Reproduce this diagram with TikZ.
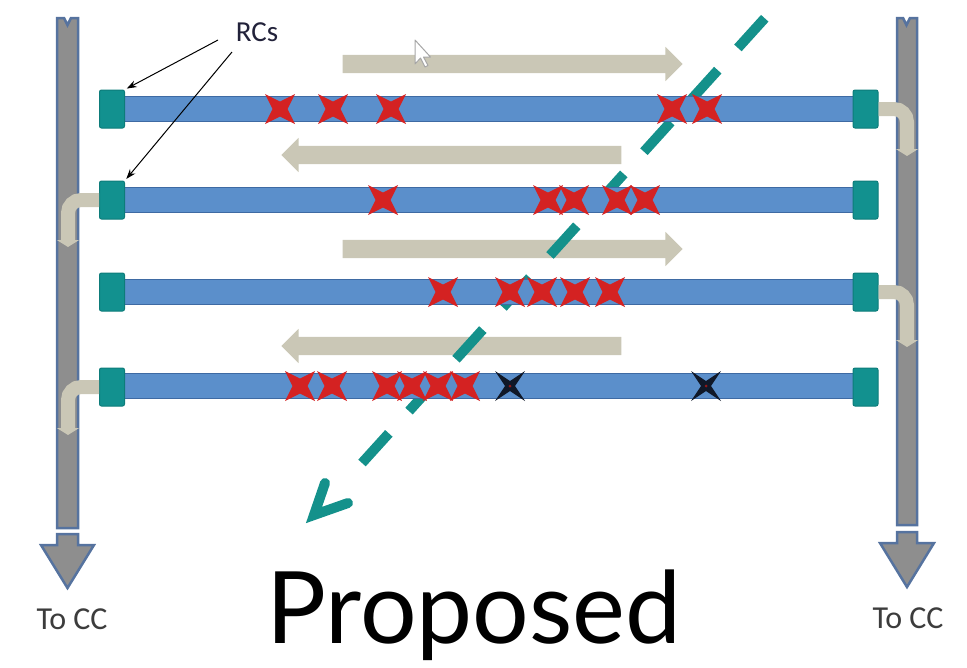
\documentclass[tikz,border=0pt]{standalone}
\usepackage{fontspec}
\setmainfont{Carlito}
\newfontfamily\propfont{Lato}
\usetikzlibrary{arrows.meta,shapes.arrows}
\definecolor{barblue}{HTML}{5B8FCB}
\definecolor{baredge}{HTML}{3E6AA3}
\definecolor{capteal}{HTML}{12918F}
\definecolor{capedge}{HTML}{0D7C7A}
\definecolor{beige}{HTML}{CAC7B6}
\definecolor{pipegray}{HTML}{8E8E8E}
\definecolor{pipeedge}{HTML}{56739F}
\definecolor{xred}{HTML}{D42222}
\definecolor{xblack}{HTML}{101828}
\definecolor{dashteal}{HTML}{14918B}
\definecolor{navytext}{HTML}{22223A}
\definecolor{cctext}{HTML}{3C3C3C}
\begin{document}
\begin{tikzpicture}[x=1pt,y=-1pt,
  pipe/.style={fill=pipegray, draw=pipeedge, line width=2.5pt, line join=miter},
  bar/.style={fill=barblue, draw=baredge, line width=1.5pt},
  rc/.style={fill=capteal, draw=capedge, line width=1pt, rounded corners=2pt, minimum width=25pt, minimum height=38pt, inner sep=0pt},
  flow/.style={single arrow, fill=beige, text height=18pt, text depth=0pt, inner sep=0pt, minimum height=340pt, single arrow head extend=8pt},
  link/.style={draw=beige, line width=14pt, rounded corners=13pt, -{Triangle[length=7pt,width=22pt]}},
  dashline/.style={draw=dashteal, line width=10pt, dash pattern=on 40pt off 30pt},
  chev/.style={draw=dashteal, line width=10pt, line join=miter, line cap=round},
  rcarrow/.style={draw=black, line width=1pt, -{Stealth[length=10pt,width=7pt]}, shorten >=2pt},
  cursorst/.style={fill=white, draw=gray!70, line width=1pt, line join=round},
  tocc/.style={text=cctext, font=\fontsize{32}{36}\selectfont, inner sep=0pt},
  redx/.pic={\fill[xred] (15,15)--(0,7.5)--(-15,15)--(-7.5,0)--(-15,-15)--(0,-7.5)--(15,-15)--(7.5,0)--cycle;},
  blackx/.pic={\fill[xblack] (15,15)--(0,5)--(-15,15)--(-5,0)--(-15,-15)--(0,-5)--(15,-15)--(5,0)--cycle;
                \fill[xred!70!black] (0,0) circle (1.5);}
]
\useasboundingbox (0,0) rectangle (967,667);

% collector pipes
\draw[pipe] (57,18) -- (64,18) -- (67.5,25) -- (71,18) -- (78,18) -- (78,528) -- (57,528) -- cycle;
\draw[pipe] (57,534) -- (78,534) -- (78,545) -- (94,545) -- (67.5,588) -- (41,545) -- (57,545) -- cycle;
\draw[pipe] (897,18) -- (903,18) -- (906.5,25) -- (910,18) -- (917,18) -- (917,525) -- (897,525) -- cycle;
\draw[pipe] (897,532) -- (917,532) -- (917,543) -- (934,543) -- (907,587) -- (880,543) -- (897,543) -- cycle;

% direction arrows
\node[flow] (f1) at (508,64) {};
\node[flow, shape border rotate=180] (f2) at (456,155) {};
\node[flow] (f3) at (508,249) {};
\node[flow, shape border rotate=180] (f4) at (456,346) {};

% diagonal dashed line
\coordinate (dA) at (362,463);
\coordinate (dB) at (765,18);
\draw[dashline] (dA) -- (dB);
\coordinate (chA) at (325,483);
\coordinate (chV) at (314,515);
\coordinate (chB) at (348,503);
\draw[chev] (chA) -- (chV) -- (chB);

% bars
\foreach \y in {109,200,292,386} {
  \draw[bar] (120,\y-12.5) rectangle (858,\y+12.5);
}
\node[rc] (capL1) at (112,109) {};
\node[rc] (capR1) at (865.5,109) {};
\node[rc] (capL2) at (112,200) {};
\node[rc] (capR2) at (865.5,200) {};
\node[rc] (capL3) at (112,292) {};
\node[rc] (capR3) at (865.5,292) {};
\node[rc] (capL4) at (112,387) {};
\node[rc] (capR4) at (865.5,387) {};

% faults
\foreach \x in {280,333,391,672,707} { \pic at (\x,109) {redx}; }
\foreach \x in {383,548,574,617,645} { \pic at (\x,200) {redx}; }
\foreach \x in {443,510,542,575,610} { \pic at (\x,292) {redx}; }
\foreach \x in {300,332,387,412,438,465} { \pic at (\x,386) {redx}; }
\foreach \x in {510,706} { \pic at (\x,386) {blackx}; }

% links to pipes
\coordinate (tR1) at (907,156);
\coordinate (tL2) at (68,247);
\coordinate (tR3) at (907,347);
\coordinate (tL4) at (68,435);
\draw[link] (capR1.east) -| (tR1);
\draw[link] (capL2.west) -| (tL2);
\draw[link] (capR3.east) -| (tR3);
\draw[link] (capL4.west) -| (tL4);

% RCs label
\node[text=navytext, font=\fontsize{29}{32}\selectfont, inner sep=0pt] (rcs) at (257,32) {RCs};
\coordinate (rcsA) at (218,40);
\coordinate (rcsB) at (232,52);
\draw[rcarrow] (rcsA) -- (capL1.north east);
\draw[rcarrow] (rcsB) -- (capL2.north east);

% mouse cursor
\draw[cursorst] (415,40) -- ++(0,24) -- ++(5.5,-6) -- ++(4.5,9) -- ++(3,-1.5) -- ++(-4.5,-8.5) -- ++(7,0) -- cycle;

% labels
\node[tocc] (ccL) at (72,619) {To CC};
\node[tocc] (ccR) at (908,618) {To CC};
\node[font=\propfont\fontsize{100}{104}\selectfont, anchor=base, inner sep=0pt] (title) at (474,643) {Proposed};
\end{tikzpicture}
\end{document}
